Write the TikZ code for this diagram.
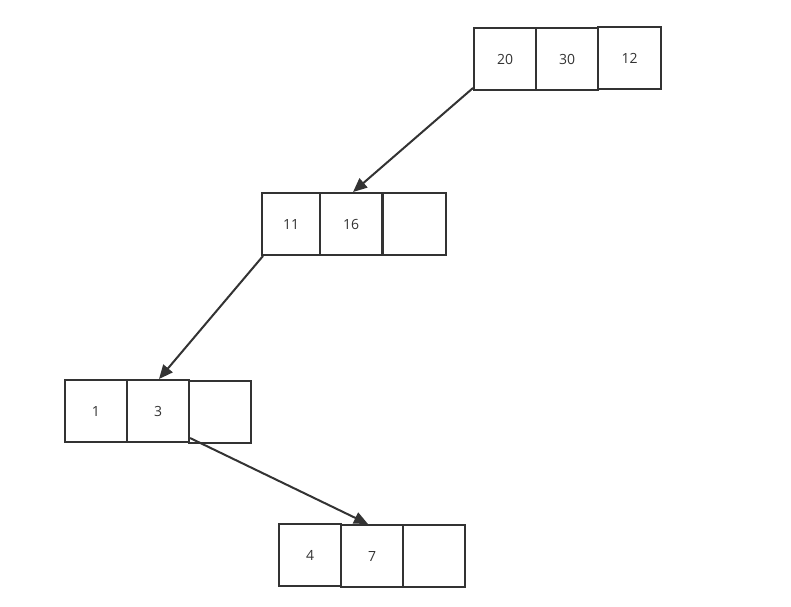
\documentclass[tikz,border=0pt]{standalone}
\usepackage{fontspec}
\setmainfont{Open Sans}
\usetikzlibrary{arrows.meta}
\definecolor{ink}{HTML}{333333}
\tikzset{
  cell/.style={draw=ink, line width=2pt, minimum width=#1, minimum height=62pt, inner sep=0pt, anchor=north west, font=\fontsize{14pt}{16pt}\selectfont, text=ink},
  cell/.default=62pt,
  link/.style={draw=ink, line width=2pt, -{Triangle[length=14pt,width=12pt]}}
}
\begin{document}
\begin{tikzpicture}[x=1pt,y=-1pt]
\useasboundingbox (0,0) rectangle (791,606);
% top row
\node[cell] (a1) at (473,27) {20};
\node[cell] (a2) at (535,27) {30};
\node[cell=63pt] (a3) at (597,26) {12};
% second row
\node[cell=58pt] (b1) at (261,192) {11};
\node[cell] (b2) at (319,192) {16};
\node[cell=63pt] (b3) at (382,192) {};
% third row
\node[cell] (c1) at (64,379) {1};
\node[cell] (c2) at (126,379) {3};
\node[cell] (c3) at (188,380) {};
% fourth row
\node[cell] (d1) at (278,523) {4};
\node[cell] (d2) at (340,524) {7};
\node[cell] (d3) at (402,524) {};
% connectors
\draw[link] ([yshift=3pt]a1.south west) -- ([xshift=34pt]b2.north west);
\draw[link] ([xshift=2pt]b1.south west) -- ([xshift=33pt]c2.north west);
\draw[link] ([yshift=5pt]c2.south east) -- ([xshift=28pt]d2.north west);
\end{tikzpicture}
\end{document}
